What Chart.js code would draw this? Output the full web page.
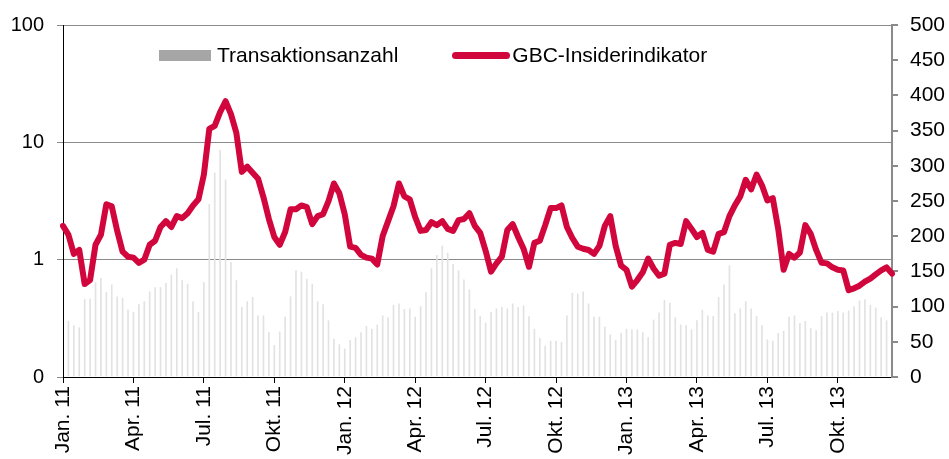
<!DOCTYPE html>
<html lang="de">
<head>
<meta charset="utf-8">
<title>GBC-Insiderindikator</title>
<script src="https://cdn.jsdelivr.net/npm/chart.js@4.4.1/dist/chart.umd.min.js"></script>
<style>
  body { margin: 0; background: #fff; }
  #wrap { position: relative; width: 949px; height: 459px; }
  #legend {
    position: absolute; top: 43px; left: 159px;
    display: flex; align-items: center;
    font: 21px "Liberation Sans", Arial, sans-serif; color: #000;
    line-height: 24px;
  }
  .item { display: flex; align-items: center; }
  .item + .item { margin-left: 54px; }
  .swatch-bar { width: 52px; height: 11px; background: #a6a6a6; margin-right: 6px; }
  .swatch-line { width: 58px; height: 7px; border-radius: 4px; background: #d1063c; margin-right: 2px; }
</style>
</head>
<body>
<div id="wrap">
  <canvas id="chart" width="949" height="459"></canvas>
  <div id="legend"></div>
</div>
<script>
// weekly data, Jan. 2011 - Dec. 2013
const tickLabels = ["Jan. 11", "Apr. 11", "Jul. 11", "Okt. 11", "Jan. 12", "Apr. 12",
  "Jul. 12", "Okt. 12", "Jan. 13", "Apr. 13", "Jul. 13", "Okt. 13"];
const weeksPerTick = 13;

const seriesNames = ["Transaktionsanzahl", "GBC-Insiderindikator"];

// GBC-Insiderindikator (left axis, log)
const insider = [
  1.94, 1.63, 1.12, 1.21, 0.62, 0.67, 1.34, 1.63, 2.97, 2.85,
  1.76, 1.17, 1.06, 1.04, 0.94, 1.0, 1.34, 1.45, 1.9, 2.13,
  1.9, 2.35, 2.26, 2.49, 2.9, 3.27, 5.3, 13, 13.8, 18.1,
  22.4, 17.4, 12.0, 5.6, 6.2, 5.5, 4.9, 3.4, 2.22, 1.56,
  1.34, 1.72, 2.69, 2.69, 2.9, 2.8, 2.01, 2.35, 2.44, 3.15,
  4.46, 3.68, 2.44, 1.29, 1.26, 1.1, 1.04, 1.02, 0.91, 1.59,
  2.13, 2.85, 4.46, 3.46, 3.27, 2.31, 1.76, 1.79, 2.09, 1.97,
  2.13, 1.83, 1.76, 2.17, 2.22, 2.49, 1.94, 1.69, 1.19, 0.79,
  0.93, 1.06, 1.79, 2.01, 1.56, 1.24, 0.87, 1.39, 1.45, 1.97,
  2.75, 2.75, 2.9, 1.9, 1.53, 1.29, 1.24, 1.21, 1.12, 1.31,
  1.94, 2.35, 1.31, 0.89, 0.82, 0.59, 0.67, 0.78, 1.02, 0.84,
  0.73, 0.76, 1.34, 1.39, 1.36, 2.13, 1.83, 1.56, 1.69, 1.21,
  1.17, 1.66, 1.72, 2.35, 2.9, 3.46, 4.8, 3.97, 5.3, 4.3,
  3.2, 3.34, 1.83, 0.82, 1.12, 1.04, 1.15, 1.97, 1.66, 1.21,
  0.94, 0.93, 0.86, 0.82, 0.81, 0.55, 0.57, 0.6, 0.65, 0.69,
  0.75, 0.81, 0.86, 0.76
];

// Transaktionsanzahl (right axis); first and last week sit under the axis lines
const txCount = [
  null, 79, 73, 70, 110, 111, 134, 140, 120, 131,
  114, 112, 95, 92, 103, 107, 121, 127, 127, 133,
  145, 154, 137, 132, 107, 92, 134, 245, 290, 322,
  280, 163, 137, 99, 107, 113, 87, 87, 63, 45,
  64, 85, 114, 151, 149, 139, 132, 107, 103, 80,
  54, 46, 40, 52, 56, 63, 72, 68, 74, 87,
  84, 102, 104, 96, 97, 85, 100, 120, 154, 173,
  186, 176, 160, 151, 138, 124, 96, 86, 77, 92,
  97, 99, 97, 104, 99, 101, 86, 68, 55, 44,
  51, 51, 49, 87, 119, 118, 121, 104, 85, 85,
  71, 60, 52, 62, 68, 67, 67, 63, 56, 81,
  91, 109, 105, 84, 74, 73, 67, 80, 95, 87,
  86, 113, 131, 158, 90, 97, 107, 97, 86, 73,
  53, 51, 62, 65, 85, 87, 76, 79, 69, 66,
  86, 91, 91, 93, 91, 94, 100, 108, 110, 102,
  98, 84, 80, null
];

const leftTicks = [0.1, 1, 10, 100];

const labels = insider.map((v, i) =>
  i % weeksPerTick === 0 ? tickLabels[i / weeksPerTick] : "");

const lineColor = "#d1063c";
const barColor = "#e2e2e2";
const gridColor = "#8a8a8a";
const font = { family: "'Liberation Sans', Arial, sans-serif", size: 20 };

// html legend
const legend = document.getElementById("legend");
legend.innerHTML =
  `<div class="item"><span class="swatch-bar"></span>${seriesNames[0]}</div>` +
  `<div class="item"><span class="swatch-line"></span>${seriesNames[1]}</div>`;

new Chart(document.getElementById("chart"), {
  type: "bar",
  data: {
    labels: labels,
    datasets: [
      {
        type: "line",
        label: seriesNames[1],
        data: insider,
        yAxisID: "y",
        borderColor: lineColor,
        backgroundColor: lineColor,
        borderWidth: 6,
        borderJoinStyle: "round",
        borderCapStyle: "round",
        pointRadius: 0,
        tension: 0,
        order: 0
      },
      {
        type: "bar",
        label: seriesNames[0],
        data: txCount,
        yAxisID: "y2",
        backgroundColor: barColor,
        barThickness: 1,
        order: 1
      }
    ]
  },
  options: {
    responsive: false,
    animation: false,
    layout: { padding: { top: 22, left: 0, right: 0, bottom: 0 } },
    plugins: {
      legend: { display: false },
      tooltip: { enabled: false }
    },
    scales: {
      x: {
        type: "category",
        offset: false,
        afterBuildTicks: (s) => { s.ticks = s.ticks.filter(t => t.value % weeksPerTick === 0); },
        afterFit: (s) => { s.height = 82; },
        grid: { display: true, drawOnChartArea: false, offset: false, color: "#000", tickLength: 6 },
        border: { color: "#000", width: 1 },
        ticks: {
          autoSkip: false,
          minRotation: 90,
          maxRotation: 90,
          padding: 3,
          color: "#000",
          font: { family: font.family, size: 21 },
          callback: (value) => tickLabels[value / weeksPerTick]
        }
      },
      y: {
        type: "logarithmic",
        position: "left",
        min: 0.1,
        max: 100,
        afterBuildTicks: (s) => { s.ticks = leftTicks.map(v => ({ value: v })); },
        afterFit: (s) => { s.width = 63; },
        grid: { color: gridColor, lineWidth: 1, tickLength: 6 },
        border: { color: "#000", width: 1 },
        ticks: {
          padding: 13,
          color: "#000",
          font: font,
          callback: (v) => v < 1 ? "0" : String(v)
        }
      },
      y2: {
        type: "linear",
        position: "right",
        min: 0,
        max: 500,
        afterFit: (s) => { s.width = 57; },
        grid: { drawOnChartArea: false, color: gridColor, lineWidth: 2, tickLength: 6 },
        border: { color: gridColor, width: 2 },
        ticks: {
          stepSize: 50,
          padding: 12,
          color: "#000",
          font: { family: font.family, size: 21 }
        }
      }
    }
  }
});
</script>
</body>
</html>
